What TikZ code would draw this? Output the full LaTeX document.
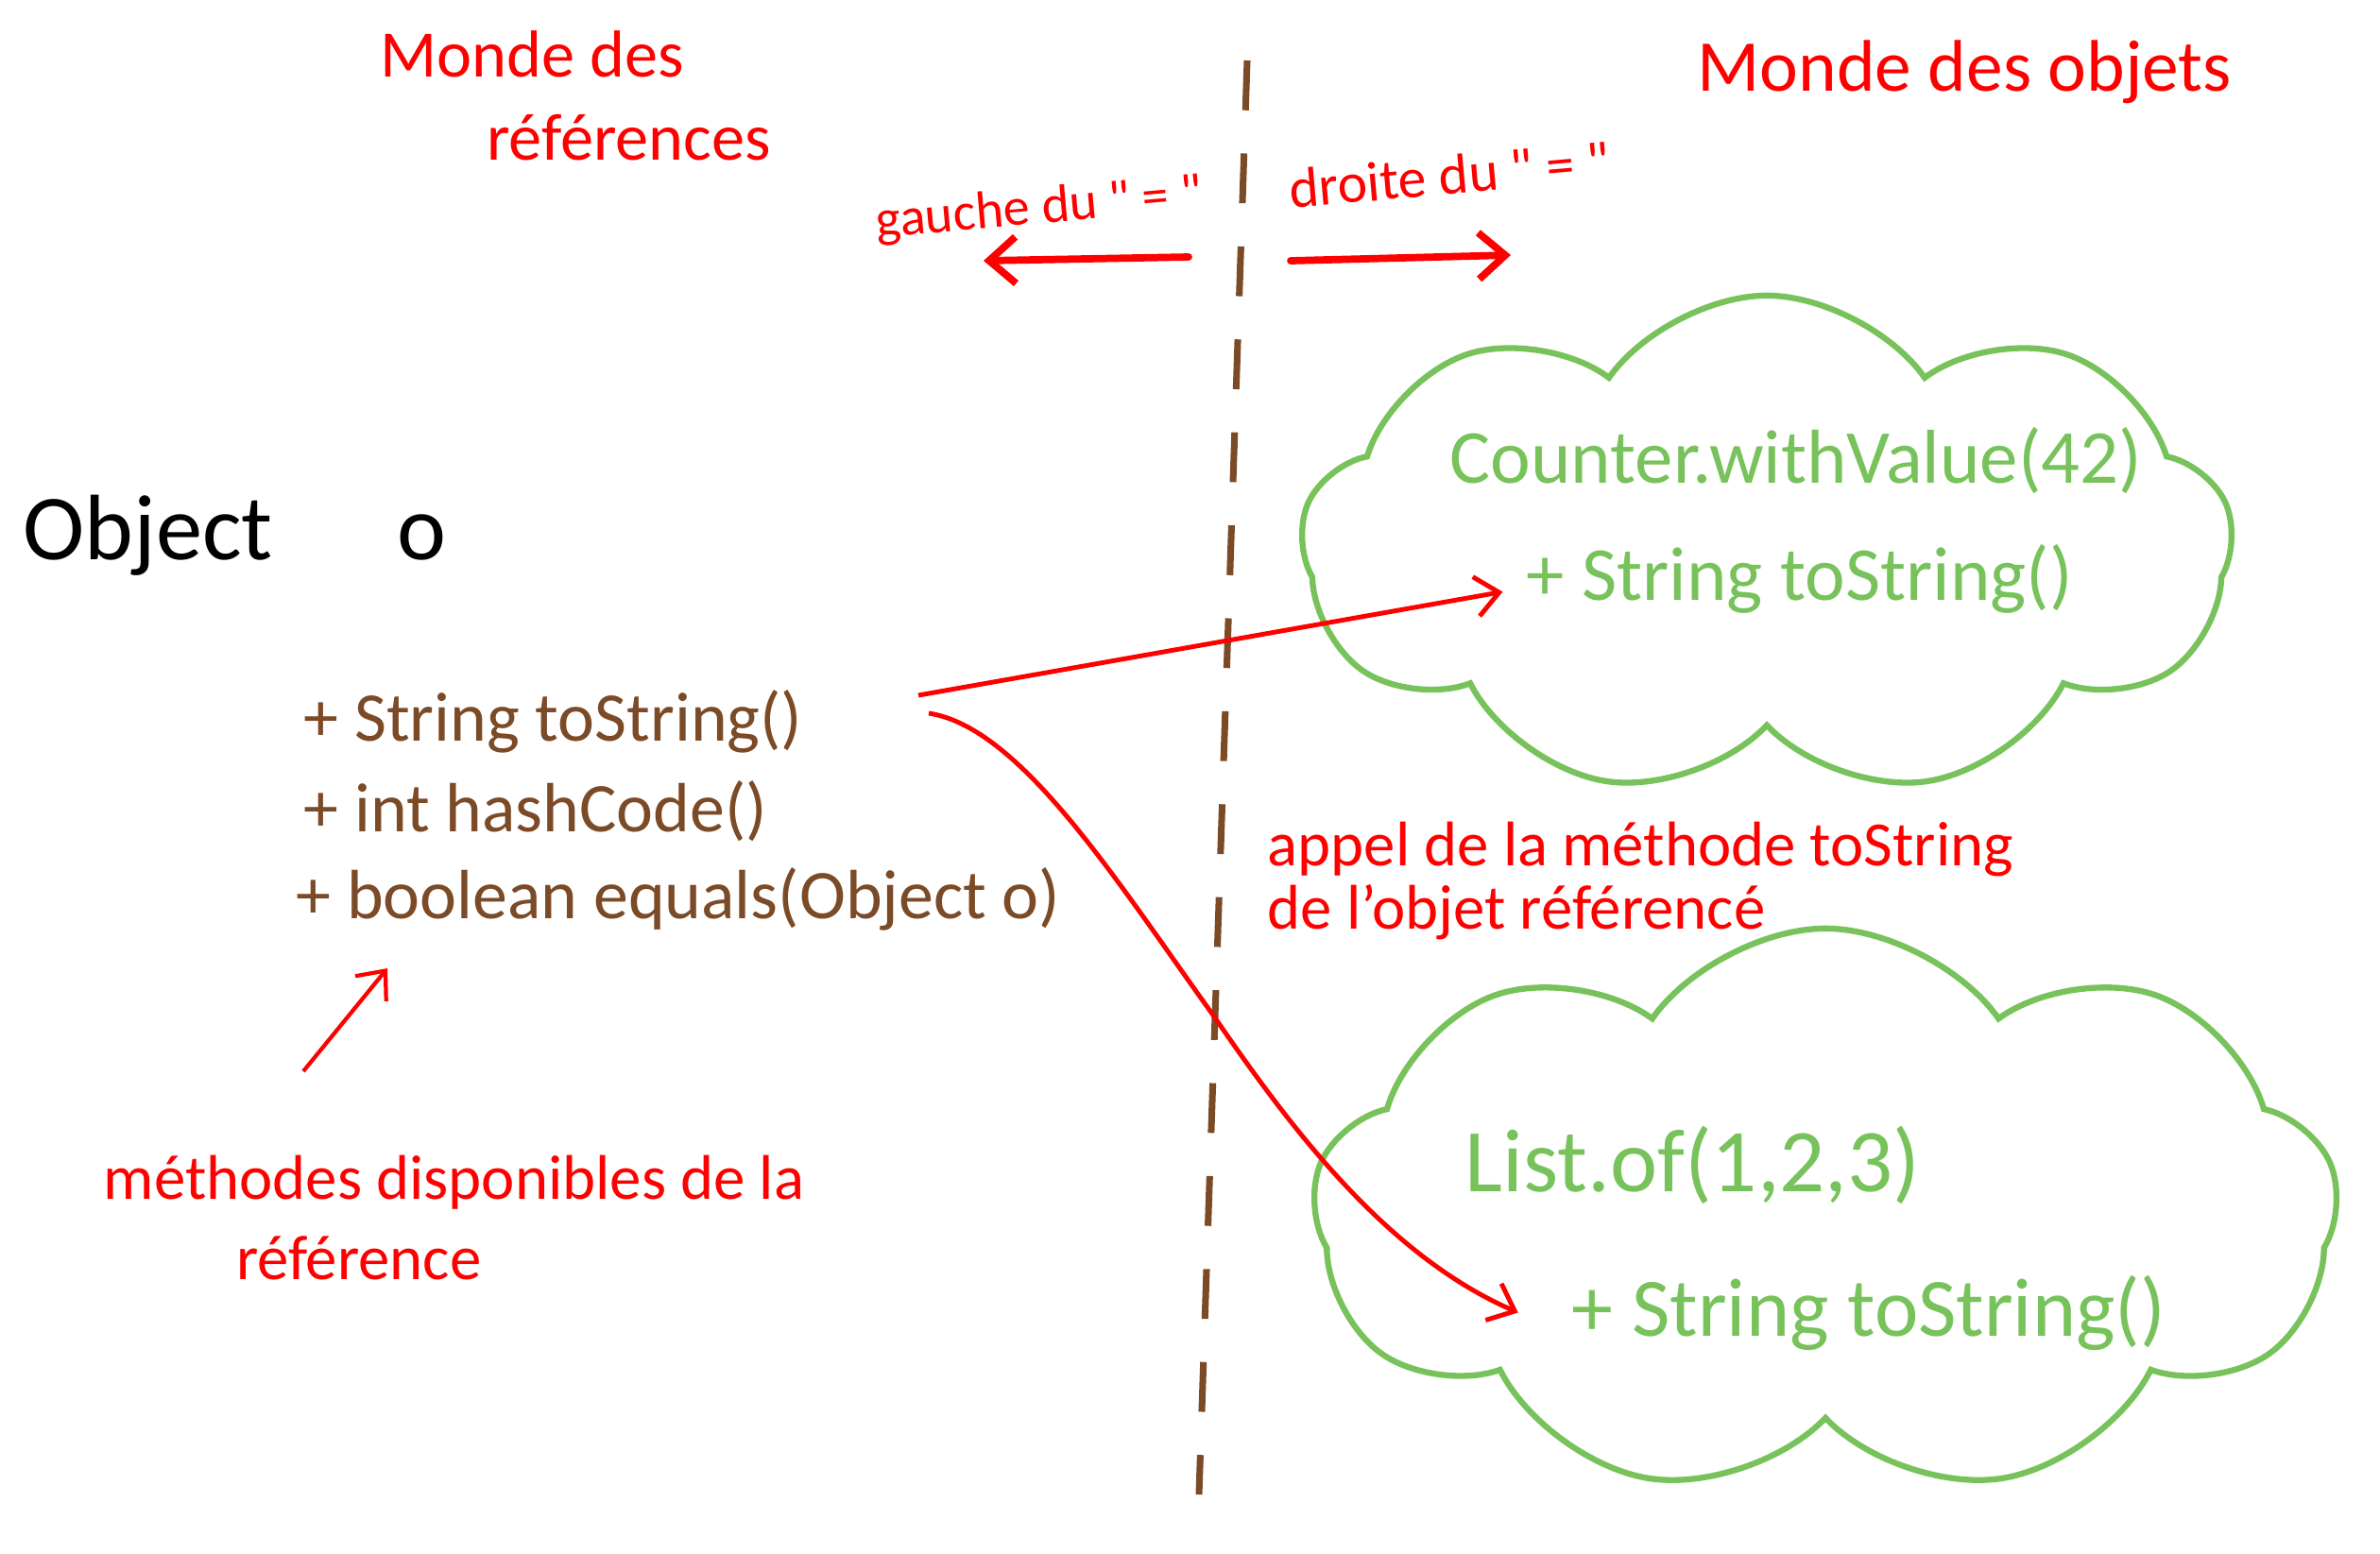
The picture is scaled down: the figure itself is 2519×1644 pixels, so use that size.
\documentclass[tikz,border=0pt]{standalone}
\usepackage{fontspec}
\setmainfont{Carlito}
\usetikzlibrary{arrows.meta}
\usetikzlibrary{shapes.symbols}
\definecolor{pred}{HTML}{FF0000}
\definecolor{pbrown}{HTML}{7B4A26}
\definecolor{pgreen}{HTML}{78C25C}
\tikzset{note/.style={text=pred, inner sep=0pt, anchor=base west, align=left}}
\tikzset{meth/.style={text=pbrown, inner sep=0pt, anchor=base west, font=\fontsize{21}{25}\selectfont}}
\tikzset{puff/.style={cloud, cloud puffs=9, cloud puff arc=110, cloud ignores aspect, draw=pgreen, line width=1.8pt}}
\tikzset{val/.style={text=pgreen, inner sep=0pt, anchor=base west}}
\tikzset{call/.style={draw=pred, line width=1.4pt, -{Straight Barb[length=7pt,width=12pt]}}}
\tikzset{side/.style={draw=pred, line width=2.2pt, line cap=round, -{Straight Barb[length=8pt,width=14pt]}}}

\begin{document}
\begin{tikzpicture}[x=0.01cm, y=-0.01cm]
  \useasboundingbox (0,0) rectangle (2519,1644);

  \node[note, font=\fontsize{20}{25}\selectfont] (mref) at (402,169)
    {Monde des\\\hspace*{1.6em}références};
  \node[note, font=\fontsize{22}{26}\selectfont] (mobj) at (1796,96) {Monde des objets};

  \node[note, anchor=center, rotate=5, font=\fontsize{16}{18}\selectfont] (gauche) at (1100,222)
    {gauche du \textquotedbl\ = \textquotedbl};
  \node[note, anchor=center, rotate=5, font=\fontsize{17}{19}\selectfont] (droite) at (1534,185)
    {droite du \textquotedbl\ = \textquotedbl};

  \coordinate (gl0) at (1258,272);
  \coordinate (gl1) at (1041,276);
  \coordinate (dr0) at (1366,276);
  \coordinate (dr1) at (1599,270);
  \draw[side] (gl0) -- (gl1);
  \draw[side] (dr0) -- (dr1);

  % separation
  \coordinate (sep0) at (1320,64);
  \coordinate (sep1) at (1269,1582);
  \draw[pbrown, line width=2pt, dash pattern=on 15pt off 13pt] (sep0) -- (sep1);

  \node[anchor=base west, inner sep=0pt, font=\fontsize{28}{30}\selectfont] (obj) at (24,592) {Object\hspace{1.34em}o};

  \node[meth] (m1) at (321,784) {+ String toString()};
  \node[meth] (m2) at (321,880) {+ int hashCode()};
  \node[meth] (m3) at (313,972) {+ boolean equals(Object o)};

  \node[note, font=\fontsize{19}{24}\selectfont] (dispo) at (109,1354)
    {méthodes disponibles de la\\\hspace*{2.1em}référence};
  \coordinate (dp0) at (321,1134);
  \coordinate (dp1) at (410,1025);
  \draw[call, line width=1.2pt] (dp0) -- (dp1);

  \node[note, font=\fontsize{19}{19}\selectfont] (appel) at (1341,983)
    {appel de la méthode toString\\de l'objet référencé};

  \node[puff, minimum width=9.85cm, minimum height=5.3cm] (c1) at (1870,578) {};
  \node[val, font=\fontsize{23}{27}\selectfont] (cv) at (1534,511) {Counter.withValue(42)};
  \node[val, font=\fontsize{23}{27}\selectfont] (cs1) at (1615,635) {+ String toString()};

  \node[puff, minimum width=10.84cm, minimum height=6cm] (c2) at (1932,1283) {};
  \node[val, font=\fontsize{27}{30}\selectfont] (cl) at (1550,1261) {List.of(1,2,3)};
  \node[val, font=\fontsize{25}{28}\selectfont] (cs2) at (1663,1414) {+ String toString()};

  \coordinate (s1) at (972,736);
  \coordinate (s2) at (983,755);
  \draw[call] (s1) -- ([xshift=-7pt, yshift=-4pt]cs1.west);
  \draw[call] (s2) .. controls (1080,770) and (1180,930) .. (1285,1076)
    .. controls (1370,1200) and (1470,1330) .. ([xshift=-16pt]cs2.west);

\end{tikzpicture}
\end{document}
